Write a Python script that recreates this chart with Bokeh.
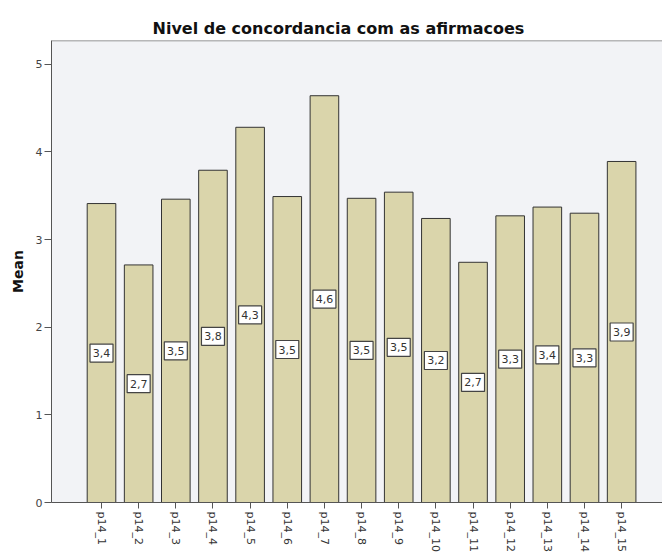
from bokeh.plotting import figure
from bokeh.models import ColumnDataSource, Range1d, FixedTicker, Span
from bokeh.core.properties import value
from bokeh.embed import file_html
from bokeh.resources import INLINE

categories = ["p14_1", "p14_2", "p14_3", "p14_4", "p14_5", "p14_6", "p14_7", "p14_8",
              "p14_9", "p14_10", "p14_11", "p14_12", "p14_13", "p14_14", "p14_15"]
means = [3.41, 2.71, 3.46, 3.79, 4.28, 3.49, 4.64, 3.47, 3.54, 3.24, 2.74, 3.27, 3.37, 3.30, 3.89]
y_ticks = [0, 1, 2, 3, 4, 5]

positions = list(range(1, len(categories) + 1))
labels = [f"{v:.1f}".replace(".", ",") for v in means]
mids = [v / 2 for v in means]

src = ColumnDataSource(dict(x=positions, top=means, mid=mids, label=labels))

Y_TOP = 5.27
p = figure(width=662, height=554, output_backend="svg", toolbar_location=None,
           x_range=Range1d(-0.346, 16.10), y_range=Range1d(0, Y_TOP),
           min_border_left=51, min_border_right=0, min_border_top=40, min_border_bottom=51)

p.background_fill_color = "#f2f3f6"
p.border_fill_color = "white"
p.outline_line_color = None
p.xgrid.grid_line_color = None
p.ygrid.grid_line_color = None

p.add_layout(Span(location=Y_TOP, dimension="width", line_color="#777777", line_width=1.5))

p.vbar(x="x", top="top", width=0.77, bottom=0, source=src,
       fill_color="#dad5ab", line_color="#333333", line_width=1)

p.rect(x="x", y="mid", width=23, height=18, width_units="screen", height_units="screen",
       source=src, fill_color="white", line_color="#444444", line_width=1.2)
p.text(x="x", y="mid", text="label", source=src, text_align="center", text_baseline="middle",
       text_font=value("DejaVu Sans"), text_font_size="11px", text_color="#333333")

p.title.text = "Nivel de concordancia com as afirmacoes"
p.title.text_font = "DejaVu Sans"
p.title.text_font_size = "16px"
p.title.text_font_style = "bold"
p.title.text_color = "#111111"
p.title.align = "left"
p.title.offset = 101
p.title.standoff = 6

# y axis
p.yaxis.ticker = FixedTicker(ticks=y_ticks)
p.yaxis.minor_tick_line_color = None
p.yaxis.major_tick_in = 0
p.yaxis.major_tick_out = 7
p.yaxis.major_label_standoff = 2
p.yaxis.major_label_text_font = "DejaVu Sans"
p.yaxis.major_label_text_font_size = "11px"
p.yaxis.major_label_text_color = "#444444"
p.yaxis.axis_line_color = "#555555"
p.yaxis.major_tick_line_color = "#555555"
p.yaxis.axis_label = "Mean"
p.yaxis.axis_label_text_font = "DejaVu Sans"
p.yaxis.axis_label_text_font_size = "14px"
p.yaxis.axis_label_text_font_style = "bold"
p.yaxis.axis_label_text_color = "#111111"
p.yaxis.axis_label_standoff = 7

# x axis
p.xaxis.ticker = FixedTicker(ticks=positions)
p.xaxis.major_label_overrides = {i: c for i, c in zip(positions, categories)}
p.xaxis.minor_tick_line_color = None
p.xaxis.major_tick_in = 0
p.xaxis.major_tick_out = 6
p.xaxis.major_label_standoff = 3
p.xaxis.major_label_orientation = -1.5707963
p.xaxis.major_label_text_font = "DejaVu Sans"
p.xaxis.major_label_text_font_size = "11px"
p.xaxis.major_label_text_color = "#333333"
p.xaxis.axis_line_color = "#555555"
p.xaxis.major_tick_line_color = "#555555"

open("out.html", "w").write(file_html(p, INLINE))
